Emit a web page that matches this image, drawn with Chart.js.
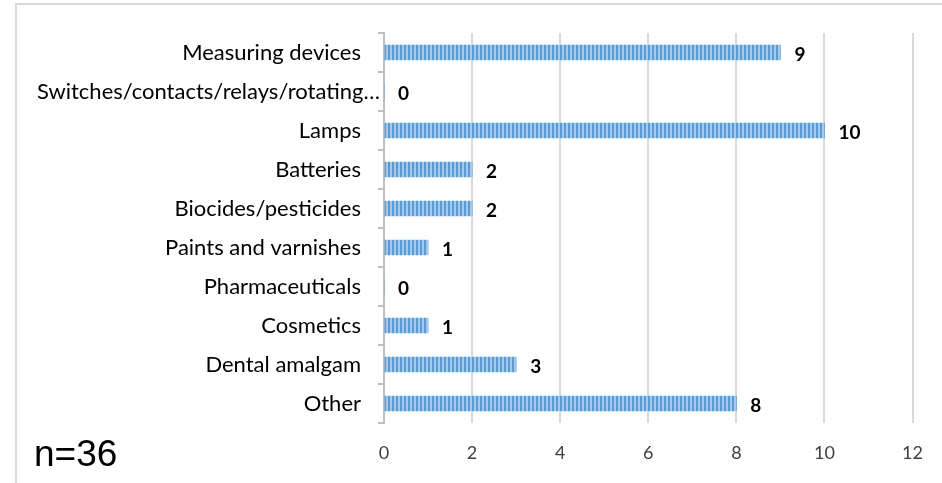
<!DOCTYPE html>
<html>
<head>
<meta charset="utf-8">
<script src="https://cdn.jsdelivr.net/npm/chart.js@4.4.1/dist/chart.umd.min.js"></script>
<style>
  html, body { margin: 0; padding: 0; background: #fff; }
  #wrap { position: relative; width: 942px; height: 483px; overflow: hidden; }
  #frame { position: absolute; left: 15px; top: 3px; width: 1000px; height: 600px; border: 2px solid #d9d9d9; box-sizing: border-box; }
  #note { position: absolute; left: 34px; top: 435px; font: 37px/1 "Liberation Sans", Arial, sans-serif; color: #000; }
  canvas { position: absolute; left: 0; top: 0; }
</style>
</head>
<body>
<div id="wrap">
  <div id="frame"></div>
  <canvas id="chart" width="942" height="483"></canvas>
  <div id="note">n=36</div>
</div>
<script>
const categories = [
    'Measuring devices',
    'Switches/contacts/relays/rotating\u2026',
    'Lamps',
    'Batteries',
    'Biocides/pesticides',
    'Paints and varnishes',
    'Pharmaceuticals',
    'Cosmetics',
    'Dental amalgam',
    'Other'
];
const counts = [9, 0, 10, 2, 2, 1, 0, 1, 3, 8];
const xTicks = [0, 2, 4, 6, 8, 10, 12];

const fontFamily = 'Lato, "Open Sans", sans-serif';

// vertical stripe fill like the excel pattern
function stripePattern(ctx) {
    const c = document.createElement('canvas');
    c.width = 4;
    c.height = 4;
    const p = c.getContext('2d');
    p.fillStyle = '#a8c8ea';
    p.fillRect(0, 0, 4, 4);
    p.fillStyle = '#5b9bd5';
    p.fillRect(0, 0, 2, 4);
    return ctx.createPattern(c, 'repeat');
}

// category labels, drawn against the y scale
const categoryLabels = {
    id: 'categoryLabels',
    afterDraw(chart) {
        const ctx = chart.ctx;
        const y = chart.scales.y;
        ctx.save();
        ctx.font = '22px ' + fontFamily;
        ctx.fillStyle = '#000';
        ctx.textAlign = 'right';
        ctx.textBaseline = 'middle';
        categories.forEach((name, i) => {
            const right = name.length > 25 ? 380 : 361;
            ctx.fillText(name, right, y.getPixelForValue(i));
        });
        ctx.restore();
    }
};

// bold value labels to the right of each bar
const valueLabels = {
    id: 'valueLabels',
    afterDatasetsDraw(chart) {
        const ctx = chart.ctx;
        const meta = chart.getDatasetMeta(0);
        ctx.save();
        ctx.font = 'bold 19px ' + fontFamily;
        ctx.fillStyle = '#000';
        ctx.textAlign = 'left';
        ctx.textBaseline = 'middle';
        meta.data.forEach((bar, i) => {
            ctx.fillText(String(counts[i]), bar.x + 14, bar.y + 2);
        });
        ctx.restore();
    }
};

const ctx = document.getElementById('chart').getContext('2d');

new Chart(ctx, {
    type: 'bar',
    data: {
        labels: categories,
        datasets: [{
            data: counts,
            backgroundColor: stripePattern(ctx),
            borderWidth: 0,
            barThickness: 15
        }]
    },
    options: {
        indexAxis: 'y',
        responsive: false,
        animation: false,
        layout: {
            padding: { left: 0, right: 25, top: 33, bottom: 0 }
        },
        plugins: {
            legend: { display: false },
            tooltip: { enabled: false }
        },
        scales: {
            x: {
                min: 0,
                max: 12,
                afterBuildTicks: (axis) => {
                    axis.ticks = xTicks.map(v => ({ value: v }));
                },
                afterFit: (axis) => {
                    axis.height = 60;
                },
                border: { display: false },
                grid: {
                    color: '#d9d9d9',
                    lineWidth: 2,
                    drawTicks: false
                },
                ticks: {
                    padding: 19,
                    color: '#404040',
                    font: { family: fontFamily, size: 18 }
                }
            },
            y: {
                afterFit: (axis) => {
                    axis.width = 384;
                },
                border: { display: true, color: '#bfbfbf', width: 2 },
                grid: {
                    offset: true,
                    drawOnChartArea: false,
                    color: '#bfbfbf',
                    lineWidth: 2,
                    tickLength: 6
                },
                ticks: { display: false }
            }
        }
    },
    plugins: [categoryLabels, valueLabels]
});
</script>
</body>
</html>
